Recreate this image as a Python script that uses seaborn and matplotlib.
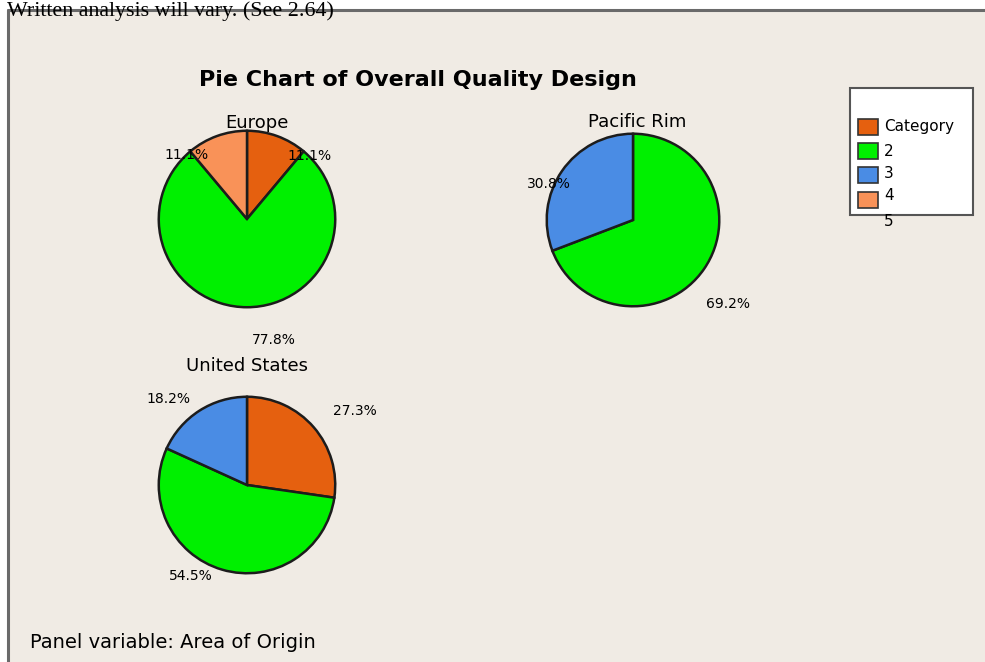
import matplotlib
matplotlib.use("Agg")
import numpy as np
import matplotlib.pyplot as plt
import seaborn as sns
from matplotlib.patches import Rectangle
from matplotlib.lines import Line2D

# ---------------- data ----------------
categories = ["2", "3", "4", "5"]
europe_pct = [11.1, 77.8, 0.0, 11.1]
pacific_pct = [0.0, 69.2, 30.8, 0.0]
us_pct = [27.3, 54.5, 18.2, 0.0]
panel_names = ["Europe", "Pacific Rim", "United States"]
legend_labels = ["Category", "2", "3", "4", "5"]

# ---------------- style ----------------
sns.set_theme(style="white")
plt.rcParams["font.family"] = ["DejaVu Sans"]
plt.rcParams["text.color"] = "black"
palette = sns.color_palette(["#E5600F", "#00F000", "#4A8CE4", "#F99258"])

W, H = 985, 662
fig = plt.figure(figsize=(W / 100, H / 100), dpi=100, facecolor="white")


def fx(x):
    return x / W


def fy(y):
    return 1 - y / H


# frame background and edges
fig.patches.append(Rectangle((fx(8), 0), 1 - fx(8), fy(10), transform=fig.transFigure,
                             facecolor="#F0EBE4", edgecolor="none", zorder=-5))
fig.add_artist(Line2D([fx(8), fx(8)], [0, fy(10)], color="#6a6a6a", lw=2.2,
                      transform=fig.transFigure, zorder=-4))
fig.add_artist(Line2D([fx(8), 1], [fy(10), fy(10)], color="#6a6a6a", lw=2.2,
                      transform=fig.transFigure, zorder=-4))

fig.text(fx(7), fy(1), "Written analysis will vary. (See 2.64)", ha="left", va="top",
         fontsize=15.8, family="Liberation Serif", color="black")

fig.text(fx(418), fy(80), "Pie Chart of Overall Quality Design", ha="center", va="center",
         fontsize=16, fontweight="bold")

# layout: (center x, center y, radius, title pos, label polar positions)
layouts = [
    (247, 219, 90, (257, 123), [(45.4, 1.01), (-77.6, 1.40), (133.6, 1.00)]),
    (633, 220, 88, (637, 122), [(-41.2, 1.47), (156.7, 1.06)]),
    (247, 485, 90, (247, 366), [(34.3, 1.48), (238.5, 1.21), (132.3, 1.32)]),
]
datasets = [europe_pct, pacific_pct, us_pct]

for name, vals, (cx, cy, r, tpos, lpos) in zip(panel_names, datasets, layouts):
    ax = fig.add_axes([fx(cx - r), fy(cy + r), 2 * r / W, 2 * r / H])
    ax.patch.set_alpha(0)
    keep = [i for i, v in enumerate(vals) if v > 0]
    v = [vals[i] for i in keep]
    cols = [palette[i] for i in keep]
    wedges, texts, autotexts = ax.pie(
        v, colors=cols, startangle=90, counterclock=False,
        wedgeprops=dict(edgecolor="#1c1c1c", linewidth=1.8),
        autopct=lambda p: f"{p:.1f}%", pctdistance=1.1,
        textprops=dict(fontsize=10, color="black"))
    for t, (ang, d) in zip(autotexts, lpos):
        a = np.deg2rad(ang)
        t.set_position((d * np.cos(a), d * np.sin(a)))
        t.set_ha("center")
        t.set_va("center")
        t.set_clip_on(False)
    ax.set_xlim(-1.02, 1.02)
    ax.set_ylim(-1.02, 1.02)
    ax.set_aspect("equal")
    ax.axis("off")
    fig.text(fx(tpos[0]), fy(tpos[1]), name, ha="center", va="center", fontsize=13)

# legend (drawn as in reference)
fig.patches.append(Rectangle((fx(850), fy(215)), (973 - 850) / W, (215 - 88) / H,
                             transform=fig.transFigure, facecolor="white",
                             edgecolor="#555555", lw=1.5, zorder=2))
box_rows = [127, 151, 175, 200]
text_rows = [127, 151, 174, 196, 222]
for i, yy in enumerate(box_rows):
    fig.patches.append(Rectangle((fx(858), fy(yy + 8)), 20 / W, 16 / H,
                                 transform=fig.transFigure, facecolor=palette[i],
                                 edgecolor="#333333", lw=1.2, zorder=3))
for lab, yy in zip(legend_labels, text_rows):
    fig.text(fx(884), fy(yy), lab, ha="left", va="center", fontsize=11, zorder=4)

fig.text(fx(30), fy(643), "Panel variable: Area of Origin", ha="left", va="center",
         fontsize=14)

fig.savefig("out.png", dpi=100, facecolor="white")
